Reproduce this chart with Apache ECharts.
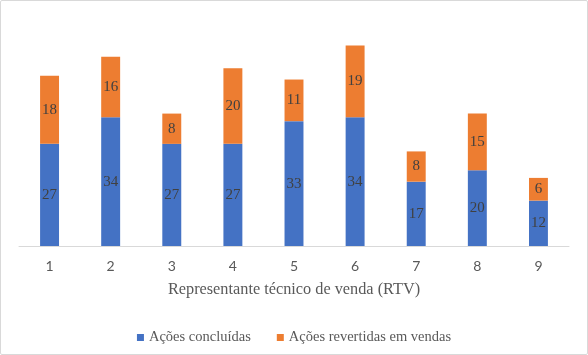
<!DOCTYPE html>
<html><head><meta charset="utf-8">
<script src="https://cdn.jsdelivr.net/npm/echarts@6/dist/echarts.min.js"></script>
<style>html,body{margin:0;padding:0;background:#fff}#c{width:588px;height:355px;box-sizing:border-box;border:1px solid #d9d9d9;border-radius:2px}</style>
</head><body><div id="c"></div>
<script>
const categories = ['1','2','3','4','5','6','7','8','9'];
const concluidas = [27,34,27,27,33,34,17,20,12];
const revertidas = [18,16,8,20,11,19,8,15,6];
const seriesNames = ['Ações concluídas','Ações revertidas em vendas'];
const axisTitle = 'Representante técnico de venda (RTV)';

const chart = echarts.init(document.getElementById('c'), null, {renderer:'canvas'});
const font = '"Liberation Serif", "Times New Roman", serif';
const lbl = {show:true, position:'inside', color:'#404040', fontFamily:font, fontSize:15};
chart.setOption({
  animation:false,
  textStyle:{fontFamily:font},
  grid:{left:18, right:18, top:18, bottom:108, containLabel:false},
  legend:{top:324, itemWidth:7, itemHeight:7, itemGap:26, icon:'rect',
    textStyle:{color:'#595959', fontFamily:font, fontSize:14.5}},
  xAxis:{type:'category', data:categories, name:axisTitle, nameLocation:'middle', nameGap:36,
    nameTextStyle:{color:'#595959', fontFamily:font, fontSize:16.3},
    axisLine:{lineStyle:{color:'#d9d9d9'}}, axisTick:{show:false},
    axisLabel:{color:'#595959', fontFamily:'Lato, "Open Sans", sans-serif', fontSize:14, margin:13}},
  yAxis:{type:'value', min:0, max:60, interval:10, show:false, splitLine:{show:false}},
  series:[
    {name:seriesNames[0], type:'bar', stack:'a', data:concluidas, barWidth:'31%',
     itemStyle:{color:'#4472C4'}, label:lbl},
    {name:seriesNames[1], type:'bar', stack:'a', data:revertidas, barWidth:'31%',
     itemStyle:{color:'#ED7D31'}, label:lbl}
  ]
});
</script></body></html>
